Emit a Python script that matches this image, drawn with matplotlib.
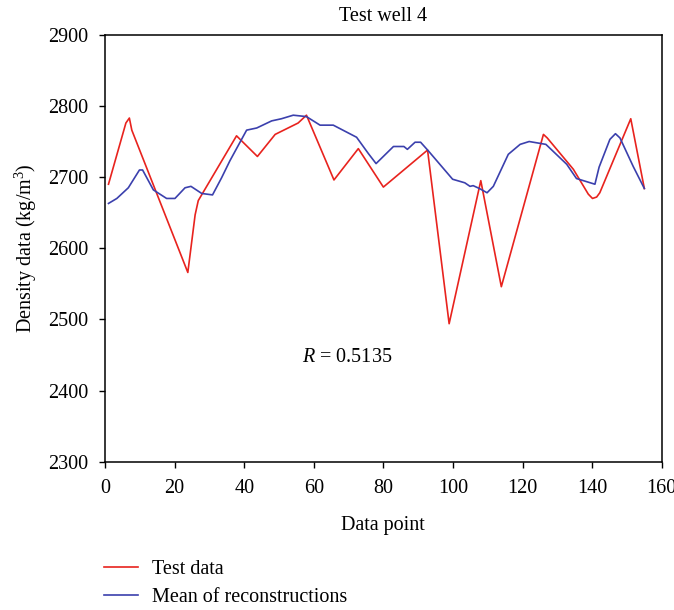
import matplotlib
matplotlib.use("Agg")
from matplotlib import pyplot as plt

plt.rcParams['font.family'] = ['Liberation Serif', 'DejaVu Serif']
plt.rcParams['mathtext.fontset'] = 'custom'
plt.rcParams['mathtext.rm'] = 'Liberation Serif'
plt.rcParams['mathtext.it'] = 'Liberation Serif:italic'

# test data (red)
test_x = [1, 6, 7, 7.7, 23.8, 25.9, 26.8, 37.8, 43.8, 48.9, 55.5, 57.9,
          65.8, 72.8, 80, 92.7, 98.9, 108, 113.9, 126, 127.1, 134.6,
          138.9, 140.1, 141.3, 142.2, 151.1, 155]
test_y = [2690, 2776, 2783, 2766, 2566, 2647, 2667, 2758, 2729, 2760, 2776, 2787,
          2696, 2740, 2686, 2738, 2494, 2695, 2546, 2760, 2755, 2711,
          2676, 2670, 2672, 2678, 2782, 2684]

# mean of reconstructions (blue)
mean_x = [1, 3.4, 6.7, 9.9, 10.8, 13.9, 17.7, 20.1, 23, 24.7, 27.8, 30.9,
          33.5, 35.9, 40.7, 43.6, 47.9, 50.7, 54.1, 57.9, 61.8, 65.6,
          72.3, 75.7, 77.9, 82.9, 85.9, 86.9, 89.1, 90.7, 92.9, 99.9,
          103.4, 104.9, 105.8, 107.6, 109.8, 111.6, 115.9, 119.3, 121.9,
          126.7, 132.7, 135.5, 140.8, 142, 145.1, 146.7, 148, 151.8, 155]
mean_y = [2663, 2670, 2685, 2710, 2710, 2682, 2670, 2670, 2685, 2687, 2677, 2675,
          2699, 2723, 2766, 2769, 2779, 2782, 2787, 2785, 2773, 2773,
          2756, 2733, 2719, 2743, 2743, 2739, 2749, 2749, 2737, 2697,
          2692, 2687, 2688, 2684, 2678, 2687, 2732, 2746, 2750,
          2746, 2718, 2698, 2690, 2714, 2753, 2761, 2755, 2715, 2684]

x_ticks = [0, 20, 40, 60, 80, 100, 120, 140, 160]
y_ticks = [2300, 2400, 2500, 2600, 2700, 2800, 2900]

fs = 14.5

fig = plt.figure(figsize=(6.74, 6.10), dpi=100)
ax = fig.add_axes([0.1558, 0.243, 0.826, 0.7])

ax.plot(test_x, test_y, color='#e8231e', lw=1.2, label='Test data')
ax.plot(mean_x, mean_y, color='#3b40ad', lw=1.2, label='Mean of reconstructions')

ax.set_xlim(0, 160)
ax.set_ylim(2300, 2900)
ax.set_xticks(x_ticks)
ax.set_yticks(y_ticks)
ax.tick_params(direction='out', length=4.3, width=1, labelsize=fs, pad=8,
               top=False, right=False)
for s in ax.spines.values():
    s.set_linewidth(1.1)

ax.set_title('Test well 4', fontsize=fs, pad=10)
ax.set_xlabel('Data point', fontsize=fs, labelpad=13)
ax.set_ylabel('Density data (kg/m$^3$)', fontsize=fs, labelpad=6)

ax.text(69.5, 2446, '$R$ = 0.5135', fontsize=fs, ha='center', va='center')

fig.legend(loc='upper left', bbox_to_anchor=(0.142, 0.095), frameon=False,
           fontsize=fs, handlelength=1.7, handletextpad=0.7, labelspacing=0.45,
           borderaxespad=0)

fig.savefig('out.png', dpi=100)
